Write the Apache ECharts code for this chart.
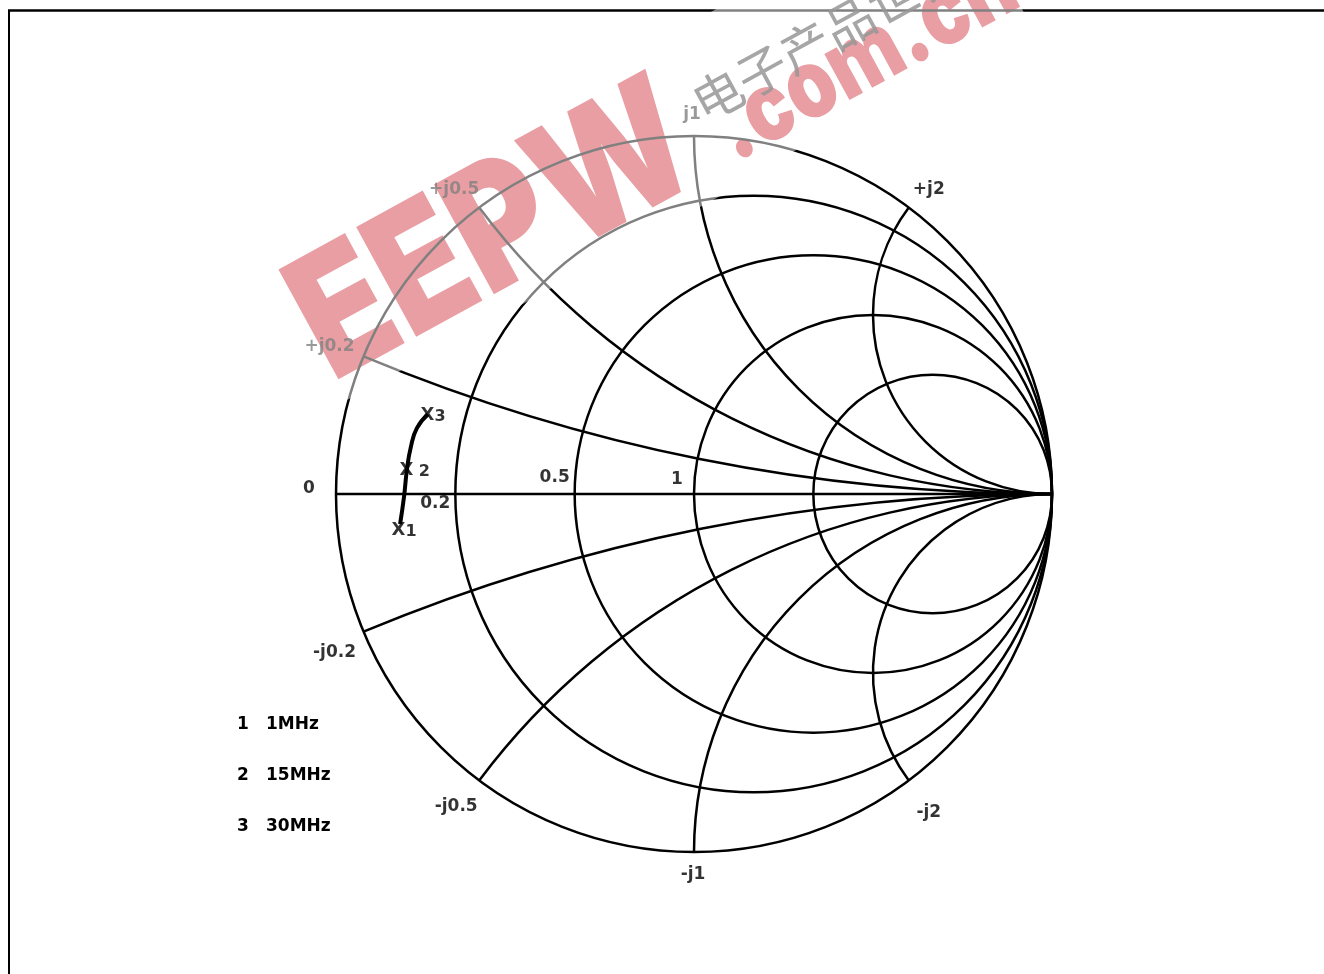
<!DOCTYPE html>
<html>
<head>
<meta charset="utf-8">
<title>Smith chart</title>
<script src="https://cdn.jsdelivr.net/npm/echarts@6/dist/echarts.min.js"></script>
</head>
<body style="margin:0;background:#fff">
<div id="main" style="width:1324px;height:974px;"></div>
<script>
// normalised grid values
var resistances = [0, 0.2, 0.5, 1, 2];
var reactances = [0, 0.2, 0.5, 1, 2, -0.2, -0.5, -1, -2];
var resistanceLabels = ['0', '0.2', '0.5', '1'];
var reactanceTicks = [0.2, 0.5, 1, 2, -0.2, -0.5, -1, -2];
var reactanceLabels = ['+j0.2', '+j0.5', 'j1', '+j2', '-j0.2', '-j0.5', '-j1', '-j2'];

var traceRe = [-0.821, -0.810, -0.802, -0.791, -0.774, -0.743];
var traceIm = [-0.084, -0.008, 0.067, 0.131, 0.184, 0.223];

// frequency markers
var markerNames = ['1', '2', '3'];
var markerRe = [-0.824, -0.802, -0.743];
var markerIm = [-0.101, 0.067, 0.221];
var markerFreqs = ['1MHz', '15MHz', '30MHz'];

// label placement (pixels, not data)
var resLabelOffset = [[-27, -5], [-20, 10], [-20, -16], [-17, -14]];
var reacLabelOffset = [[-34, -10], [-25, -18], [-2, -21], [20, -18], [-29, 21], [-23, 26], [-1, 23], [20, 32]];
var markerGap = ['', ' ', ''];

var FONT = 'DejaVu Sans';
var LW = 2.5;

var chart = echarts.init(document.getElementById('main'), null, {renderer: 'canvas'});

function renderResistance(params, api) {
    var r = api.value(0);
    var c = api.coord([r / (1 + r), 0]);
    var rad = api.size([1 / (1 + r), 0])[0];
    return {
        type: 'circle',
        shape: {cx: c[0], cy: c[1], r: rad},
        style: {fill: 'none', stroke: '#000', lineWidth: LW}
    };
}

function renderReactance(params, api) {
    var x = api.value(0);
    if (x === 0) {
        var p0 = api.coord([-1, 0]), p1 = api.coord([1, 0]);
        return {
            type: 'line',
            shape: {x1: p0[0], y1: p0[1], x2: p1[0], y2: p1[1]},
            style: {stroke: '#000', lineWidth: LW}
        };
    }
    var c = api.coord([1, 1 / x]);
    var rad = api.size([Math.abs(1 / x), 0])[0];
    var a = api.coord([1, 0]);
    var p = api.coord([(x * x - 1) / (x * x + 1), 2 * x / (x * x + 1)]);
    var a1 = Math.atan2(a[1] - c[1], a[0] - c[0]);
    var a2 = Math.atan2(p[1] - c[1], p[0] - c[0]);
    var d = a2 - a1;
    while (d > Math.PI) d -= 2 * Math.PI;
    while (d < -Math.PI) d += 2 * Math.PI;
    var start = d > 0 ? a1 : a2;
    return {
        type: 'arc',
        shape: {cx: c[0], cy: c[1], r: rad, startAngle: start, endAngle: start + Math.abs(d), clockwise: true},
        style: {fill: 'none', stroke: '#000', lineWidth: LW}
    };
}

var labelStyle = {color: '#000', fontFamily: FONT, fontWeight: 'bold', fontSize: 17};

var resLabelData = resistanceLabels.map(function (t, i) {
    var r = resistances[i];
    return {value: [(r - 1) / (r + 1), 0], name: t, label: {offset: resLabelOffset[i]}};
});
var reacLabelData = reactanceTicks.map(function (x, i) {
    return {
        value: [(x * x - 1) / (x * x + 1), 2 * x / (x * x + 1)],
        name: reactanceLabels[i],
        label: {offset: reacLabelOffset[i]}
    };
});
var markerData = markerNames.map(function (n, i) {
    return {value: [markerRe[i], markerIm[i]], name: n, gap: markerGap[i]};
});

var legendGraphics = [];
markerNames.forEach(function (n, i) {
    legendGraphics.push({
        type: 'text', left: 237, top: 716 + i * 51, z: 50,
        style: {text: n, font: 'bold 17px "' + FONT + '"', fill: '#000'}
    });
    legendGraphics.push({
        type: 'text', left: 266, top: 716 + i * 51, z: 50,
        style: {text: markerFreqs[i], font: 'bold 17px "' + FONT + '"', fill: '#000'}
    });
});

// watermark: pink drawn under the grid, white haze over both
var WM_X = 500, WM_Y = 232, WM_ROT = 0.5;
var PINK_BASE = 'rgb(209,61,71)';
var option = {
    backgroundColor: '#fff',
    animation: false,
    grid: {left: 336, top: 136, width: 716, height: 716},
    xAxis: {type: 'value', min: -1, max: 1, show: false},
    yAxis: {type: 'value', min: -1, max: 1, show: false},
    series: [
        {
            type: 'custom', clip: false, silent: true,
            renderItem: renderResistance,
            data: resistances.map(function (r) { return [r, 0]; })
        },
        {
            type: 'custom', clip: false, silent: true,
            renderItem: renderReactance,
            data: reactances.map(function (x) { return [x, 0]; })
        },
        {
            type: 'scatter', symbolSize: 1, itemStyle: {color: 'rgba(0,0,0,0)'},
            label: Object.assign({show: true, position: 'inside', formatter: '{b}'}, labelStyle),
            data: resLabelData.concat(reacLabelData)
        },
        {
            type: 'line', smooth: true, symbol: 'none',
            lineStyle: {color: '#000', width: 4},
            data: traceRe.map(function (v, i) { return [v, traceIm[i]]; })
        },
        {
            type: 'scatter', symbolSize: 1, itemStyle: {color: 'rgba(0,0,0,0)'}, z: 5,
            label: {
                show: true, position: [0, 0], align: 'left', verticalAlign: 'middle', offset: [-7, 1],
                formatter: function (p) { return '{x|X}{n|' + p.data.gap + p.name + '}'; },
                rich: {
                    x: {fontFamily: FONT, fontWeight: 'bold', fontSize: 18, color: '#000'},
                    n: {fontFamily: FONT, fontWeight: 'bold', fontSize: 16, color: '#000', padding: [2, 0, 0, 0]}
                }
            },
            data: markerData
        }
    ],
    graphic: [
        {
            type: 'line', z: 40, silent: true,
            shape: {x1: 8, y1: 10.5, x2: 1324, y2: 10.5},
            style: {stroke: '#000', lineWidth: 2.5}
        },
        {
            type: 'line', z: 40, silent: true,
            shape: {x1: 9, y1: 10, x2: 9, y2: 974},
            style: {stroke: '#000', lineWidth: 2}
        },
        {
            type: 'group', z: 0, silent: true, x: WM_X, y: WM_Y, rotation: WM_ROT,
            children: [
                {
                    type: 'text', z: 0, x: -5, y: 0, scaleX: 0.84,
                    style: {text: 'EEPW', font: '900 172px Inter', fill: PINK_BASE,
                        align: 'center', verticalAlign: 'middle'}
                },
                {
                    type: 'text', z: 0, x: 240, y: 23, scaleX: 0.82,
                    style: {text: '.com.cn', font: '900 96px Inter', fill: PINK_BASE,
                        align: 'left', verticalAlign: 'middle'}
                }
            ]
        },
        {
            type: 'group', z: 60, silent: true, x: WM_X, y: WM_Y, rotation: WM_ROT,
            children: [
                {
                    type: 'rect', z: 60,
                    shape: {x: -245, y: -92, width: 480, height: 166},
                    style: {fill: 'rgba(255,255,255,0.5)'}
                },
                {
                    type: 'rect', z: 60,
                    shape: {x: 235, y: -92, width: 330, height: 162},
                    style: {fill: 'rgba(255,255,255,0.5)'}
                },
                {
                    type: 'text', z: 61, x: 232, y: -16,
                    style: {text: '电子产品世界', font: '50px "Noto Sans CJK SC"', fill: 'rgba(150,150,150,0.85)',
                        align: 'left', verticalAlign: 'middle'}
                }
            ]
        }
    ].concat(legendGraphics)
};

chart.setOption(option);
</script>
</body>
</html>
